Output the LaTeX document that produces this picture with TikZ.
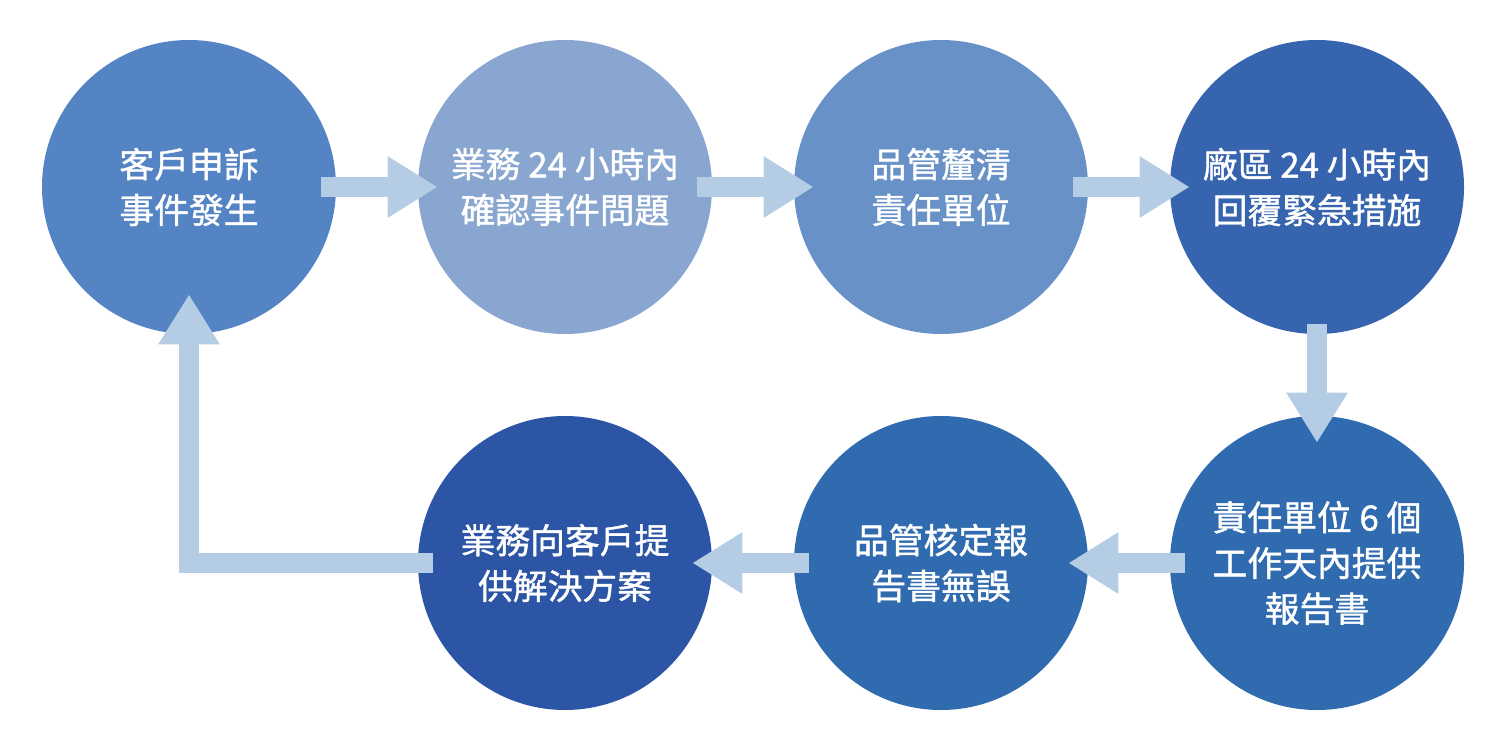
\documentclass[tikz,border=0pt]{standalone}
\usepackage{fontspec}
\setmainfont{Noto Sans CJK TC}[FakeBold=1.2]
\usepackage{xcolor}
\usepackage{tikz}
\usetikzlibrary{positioning, shapes.geometric}
\usetikzlibrary{arrows.meta}
\definecolor{blueA}{HTML}{5584C4}
\definecolor{blueB}{HTML}{88A6D0}
\definecolor{blueC}{HTML}{6892C7}
\definecolor{blueD}{HTML}{3664AE}
\definecolor{blueE}{HTML}{2F6BAE}
\definecolor{blueF}{HTML}{2C55A5}
\definecolor{arrowblue}{HTML}{B4CDE4}
\tikzstyle{stage} = [circle, minimum size=5.88cm, inner sep=0pt, text=white, align=center, font=\fontsize{19.8}{26}\selectfont]
\tikzstyle{arrow} = [line width=0.4cm, draw=arrowblue, -{Triangle[length=1cm,width=1.16cm]}, shorten <=-0.3cm, shorten >=-0.4cm]

\begin{document}
\begin{tikzpicture}[node distance=7.52cm]
		\useasboundingbox (0,0) rectangle (30.14,-14.98);
		\node (s1) [stage, fill=blueA] at (3.78,-3.74) {客戶申訴\\事件發生};
		\node (s2) [stage, fill=blueB, right of=s1] {業務~24~小時內\\確認事件問題};
		\node (s3) [stage, fill=blueC, right of=s2] {品管釐清\\責任單位};
		\node (s4) [stage, fill=blueD, right of=s3] {廠區~24~小時內\\回覆緊急措施};
		\node (s5) [stage, fill=blueE, below of=s4] {責任單位~6~個\\工作天內提供\\報告書};
		\node (s6) [stage, fill=blueE, left of=s5] {品管核定報\\告書無誤};
		\node (s7) [stage, fill=blueF, left of=s6] {業務向客戶提\\供解決方案};
		\draw [arrow](s1) -- (s2);
		\draw [arrow](s2) -- (s3);
		\draw [arrow](s3) -- (s4);
		\draw [arrow, shorten <=-0.2cm, shorten >=-0.54cm](s4) -- (s5);
		\draw [arrow](s5) -- (s6);
		\draw [arrow](s6) -- (s7);
		\draw [arrow, shorten >=-0.8cm](s7.west) -| (s1.south);
	\end{tikzpicture}
\end{document}
